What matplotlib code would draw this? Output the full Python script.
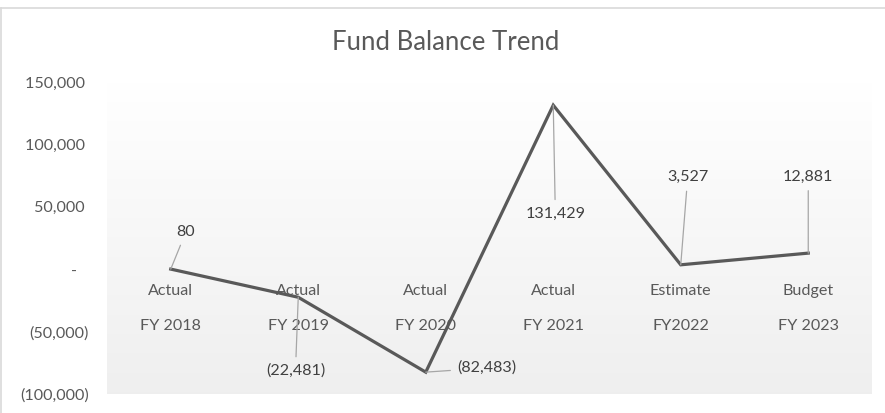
import matplotlib.pyplot as plt
import numpy as np
from matplotlib.lines import Line2D

plt.rcParams["font.family"] = ["Lato", "DejaVu Sans"]

# data
stages = ["Actual", "Actual", "Actual", "Actual", "Estimate", "Budget"]
years = ["FY 2018", "FY 2019", "FY 2020", "FY 2021", "FY2022", "FY 2023"]
balance = [80, -22481, -82483, 131429, 3527, 12881]
value_labels = ["80", "(22,481)", "(82,483)", "131,429", "3,527", "12,881"]
# label offsets from the point, in points
label_offsets = [(11, 27), (-2, -53), (44, 3), (1.5, -78), (5, 63), (0, 55)]

yticks = [150000, 100000, 50000, 0, -50000, -100000]
ytick_labels = ["150,000 ", "100,000 ", "50,000 ", "-   ", "(50,000)", "(100,000)"]

TEXT = "#595959"
LINE = "#595959"
LEADER = "#A6A6A6"
FS = 11.6

fig = plt.figure(figsize=(8.85, 4.13), dpi=100)
W, H = 885, 413
ax = fig.add_axes([107 / W, (H - 394) / H, 765 / W, (394 - 82) / H])

x = np.arange(len(balance))
ax.set_xlim(-0.5, len(balance) - 0.5)
ax.set_ylim(-100000, 150000)

# gradient plot area
grad = np.linspace(1.0, 0.937, 256)[:, None]
ax.imshow(np.dstack([grad, grad, grad]), extent=[-0.5, len(balance) - 0.5, -100000, 150000],
          aspect="auto", zorder=0, interpolation="bilinear")

ax.plot(x, balance, color=LINE, lw=2.3, zorder=3, solid_joinstyle="miter")

for sp in ax.spines.values():
    sp.set_visible(False)
ax.set_xticks([])
ax.set_yticks(yticks)
ax.set_yticklabels(ytick_labels)
ax.tick_params(axis="y", length=0, pad=13, labelsize=FS, labelcolor=TEXT)

for i, (st, yr) in enumerate(zip(stages, years)):
    ax.annotate(st, (i, 0), xytext=(0, -16), textcoords="offset points",
                ha="center", va="center", fontsize=FS, color=TEXT)
    ax.annotate(yr, (i, 0), xytext=(0, -41), textcoords="offset points",
                ha="center", va="center", fontsize=FS, color=TEXT)

for i, (v, lab, off) in enumerate(zip(balance, value_labels, label_offsets)):
    ax.annotate(lab, (i, v), xytext=off, textcoords="offset points",
                ha="center", va="center", fontsize=FS, color="#404040", zorder=4,
                arrowprops=dict(arrowstyle="-", color=LEADER, lw=0.9,
                                shrinkA=3, shrinkB=0))

fig.text(446 / W, 1 - 43 / H, "Fund Balance Trend", ha="center", va="center",
         fontsize=18.5, color=TEXT)

# chart border
fig.add_artist(Line2D([1 / W, 1], [1 - 8 / H, 1 - 8 / H], transform=fig.transFigure,
                      color="#D9D9D9", lw=1.2))
fig.add_artist(Line2D([1 / W, 1 / W], [0, 1 - 8 / H], transform=fig.transFigure,
                      color="#D9D9D9", lw=1.2))

fig.savefig("out.png", dpi=100)
